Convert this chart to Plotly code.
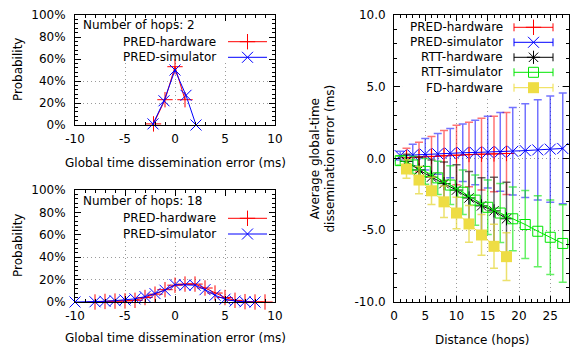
import plotly.graph_objects as go

W, H = 574, 349

# ---------------- data ----------------
# left-top: 2 hops distribution
hops2_hw_x = [-2.15, -1.0, 0.0, 1.0]
hops2_hw_p = [0.01, 0.23, 0.53, 0.23]
hops2_sim_x = [-2.2, -1.1, 0.0, 1.1, 2.1]
hops2_sim_p = [0.01, 0.22, 0.50, 0.27, 0.0]

# left-bottom: 18 hops distribution
hops18_hw_x = [-8, -7, -6, -5, -4, -3, -2, -1, 0, 1, 2, 3, 4, 5, 6, 7, 8, 9]
hops18_hw_p = [0.0, 0.005, 0.008, 0.01, 0.015, 0.04, 0.07, 0.11, 0.15, 0.16,
               0.16, 0.125, 0.08, 0.04, 0.015, 0.003, 0.0, 0.0]
hops18_sim_x = [-10, -8, -7, -6, -5, -4, -3, -2, -1, 0, 1, 2, 3, 4, 5, 6, 7, 8]
hops18_sim_p = [0.0, 0.002, 0.006, 0.012, 0.018, 0.028, 0.048, 0.075, 0.105,
                0.155, 0.15, 0.15, 0.11, 0.06, 0.025, 0.008, 0.002, 0.0]

# right: average error vs distance
pred_hw_hops = [2, 4, 6, 8, 10, 12, 14, 16, 18]
pred_hw_mean = [0.05, 0.10, 0.15, 0.20, 0.24, 0.28, 0.30, 0.32, 0.35]
pred_hw_err = [0.67, 1.04, 1.38, 1.75, 2.07, 2.25, 2.5, 2.63, 2.85]

pred_sim_hops = [1, 3, 5, 7, 9, 11, 13, 15, 17, 19, 21, 23, 25, 27]
pred_sim_mean = [0.2, 0.25, 0.3, 0.33, 0.37, 0.4, 0.42, 0.44, 0.46, 0.5, 0.55, 0.6, 0.65, 0.7]
pred_sim_err = [0.3, 0.75, 1.1, 1.42, 1.72, 2.0, 2.25, 2.5, 2.75, 3.05, 3.27, 3.5, 3.7, 3.86]

rtt_hw_hops = [2, 4, 6, 8, 10, 12, 14, 16, 18]
rtt_hw_mean = [-0.2, -0.8, -1.3, -1.75, -2.2, -2.75, -3.3, -3.65, -4.2]
rtt_hw_err = [0.5, 0.9, 1.2, 1.5, 1.76, 1.85, 1.95, 2.35, 2.55]

rtt_sim_hops = [1, 3, 5, 7, 9, 11, 13, 15, 17, 19, 21, 23, 25, 27]
rtt_sim_mean = [-0.15, -0.45, -0.9, -1.35, -1.85, -2.35, -2.9, -3.4, -3.8, -4.2, -4.6, -5.07, -5.49, -5.92]
rtt_sim_err = [0.3, 0.6, 0.9, 1.15, 1.35, 1.55, 1.75, 1.9, 2.05, 2.22, 2.37, 2.47, 2.6, 2.7]

fd_hw_hops = [2, 4, 6, 8, 10, 12, 14, 16, 18]
fd_hw_mean = [-0.73, -1.5, -2.25, -3.02, -3.8, -4.56, -5.33, -6.12, -6.84]
fd_hw_err = [0.65, 0.95, 0.95, 1.1, 1.1, 1.28, 1.42, 1.53, 1.67]

# tick labels
prob_tickvals = [0, 0.2, 0.4, 0.6, 0.8, 1.0]
prob_ticktext = ["0%", "20%", "40%", "60%", "80%", "100%"]
err_tickvals = [-10, -5, 0, 5, 10]
err_ticktext = ["-10", "-5", "0", "5", "10"]
dist_tickvals = [0, 5, 10, 15, 20, 25]
dist_ticktext = ["0", "5", "10", "15", "20", "25"]
avg_tickvals = [-10, -5, 0, 5, 10]
avg_ticktext = ["-10.0", "-5.0", "0.0", "5.0", "10.0"]

# ---------------- styles ----------------
FONT = "DejaVu Sans"
RED, BLUE, BLACK, GREEN, YELLOW = "#ff0000", "#0000ff", "#000000", "#00e600", "#eedd44"
ERRC = {RED: "rgba(255,0,0,0.55)", BLUE: "rgba(0,0,255,0.55)", BLACK: "rgba(0,0,0,0.6)",
        GREEN: "rgba(0,230,0,0.6)", YELLOW: "rgba(230,215,60,0.75)"}

STY = {
    "PRED-hardware": dict(color=RED, symbol="cross-thin", size=11, lw=1),
    "PRED-simulator": dict(color=BLUE, symbol="x-thin", size=11, lw=1),
    "RTT-hardware": dict(color=BLACK, symbol="asterisk-open", size=11, lw=1),
    "RTT-simulator": dict(color=GREEN, symbol="square-open", size=10, lw=1),
    "FD-hardware": dict(color=YELLOW, symbol="square", size=11, lw=0),
}


def marker(name):
    s = STY[name]
    return dict(symbol=s["symbol"], size=s["size"], color=s["color"],
                line=dict(color=s["color"], width=s["lw"]))


fig = go.Figure()

# left panels
for (xs, ps, name, ax) in [
    (hops2_hw_x, hops2_hw_p, "PRED-hardware", ("x", "y")),
    (hops2_sim_x, hops2_sim_p, "PRED-simulator", ("x", "y")),
    (hops18_hw_x, hops18_hw_p, "PRED-hardware", ("x2", "y2")),
    (hops18_sim_x, hops18_sim_p, "PRED-simulator", ("x2", "y2")),
]:
    fig.add_trace(go.Scatter(x=xs, y=ps, mode="lines+markers", name=name,
                             line=dict(color=STY[name]["color"], width=1),
                             marker=marker(name), xaxis=ax[0], yaxis=ax[1],
                             showlegend=False, cliponaxis=False))

# right panel
right_series = [
    ("PRED-hardware", pred_hw_hops, pred_hw_mean, pred_hw_err),
    ("PRED-simulator", pred_sim_hops, pred_sim_mean, pred_sim_err),
    ("RTT-hardware", rtt_hw_hops, rtt_hw_mean, rtt_hw_err),
    ("RTT-simulator", rtt_sim_hops, rtt_sim_mean, rtt_sim_err),
    ("FD-hardware", fd_hw_hops, fd_hw_mean, fd_hw_err),
]
for name, xs, ys, es in right_series:
    c = STY[name]["color"]
    fig.add_trace(go.Scatter(x=xs, y=ys, mode="lines+markers", name=name,
                             line=dict(color=c, width=1), marker=marker(name),
                             error_y=dict(type="data", array=es, visible=True,
                                          color=ERRC[c], thickness=1.5, width=4),
                             xaxis="x3", yaxis="y3", showlegend=False))

# ---------------- axes ----------------
def px_x(p):
    return p / W


def px_y(p):
    return 1 - p / H


axis_common = dict(showline=True, linecolor="black", linewidth=1, mirror="allticks",
                   ticks="inside", ticklen=6, tickcolor="black", tickwidth=1,
                   showgrid=True, gridcolor="#9a9a9a", griddash="1px,3px", gridwidth=1,
                   zeroline=False, tickfont=dict(family=FONT, size=12, color="black"),
                   tickmode="array", automargin=False)

L_X = [px_x(75), px_x(275)]
fig.update_layout(
    template="none",
    width=W, height=H, autosize=False, margin=dict(l=0, r=0, t=0, b=0, pad=0),
    paper_bgcolor="white", plot_bgcolor="rgba(0,0,0,0)",
    font=dict(family=FONT, size=12, color="black"), showlegend=False,
)

minor_x = dict(ticks="inside", ticklen=3, tickcolor="black", dtick=1, tick0=0, showgrid=False)
minor_p = dict(ticks="inside", ticklen=3, tickcolor="black", dtick=0.04, tick0=0, showgrid=False)
minor_a = dict(ticks="inside", ticklen=3, tickcolor="black", dtick=1, tick0=0, showgrid=False)

RANGES = {"x": [-10, 10], "y": [0, 1], "x2": [-10, 10], "y2": [0, 1],
          "x3": [0, 28], "y3": [-10, 10]}

fig.update_layout(
    xaxis=dict(axis_common, domain=L_X, anchor="y", range=RANGES["x"],
               tickvals=err_tickvals, ticktext=err_ticktext, minor=minor_x,
               ticklabelstandoff=3),
    yaxis=dict(axis_common, domain=[px_y(125), px_y(15)], anchor="x", range=RANGES["y"],
               tickvals=prob_tickvals, ticktext=prob_ticktext, minor=minor_p,
               ticklabelstandoff=6),
    xaxis2=dict(axis_common, domain=L_X, anchor="y2", range=RANGES["x2"],
                tickvals=err_tickvals, ticktext=err_ticktext, minor=minor_x,
                ticklabelstandoff=3),
    yaxis2=dict(axis_common, domain=[px_y(302), px_y(190)], anchor="x2", range=RANGES["y2"],
                tickvals=prob_tickvals, ticktext=prob_ticktext, minor=minor_p,
                ticklabelstandoff=6),
    xaxis3=dict(axis_common, domain=[px_x(394), px_x(569)], anchor="y3", range=RANGES["x3"],
                tickvals=dist_tickvals, ticktext=dist_ticktext, minor=minor_a,
                ticklabelstandoff=3),
    yaxis3=dict(axis_common, domain=[px_y(302), px_y(15)], anchor="x3", range=RANGES["y3"],
                tickvals=avg_tickvals, ticktext=avg_ticktext, minor=minor_a,
                ticklabelstandoff=5),
    xaxis4=dict(domain=[0, 1], range=[0, W], visible=False, anchor="y4",
                fixedrange=True, automargin=False),
    yaxis4=dict(domain=[0, 1], range=[H, 0], visible=False, anchor="x4",
                fixedrange=True, automargin=False),
)

# ---------------- keys (opaque boxes, text, samples) ----------------
def frac(ax, f):
    lo, hi = RANGES[ax]
    return lo + f * (hi - lo)


shapes = []
for xr, yr, fx0, fx1, fy0, fy1 in [
    ("x", "y", 0.015, 0.985, 0.564, 0.973),
    ("x2", "y2", 0.015, 0.985, 0.571, 0.973),
    ("x3", "y3", 0.046, 0.931, 0.714, 0.983),
]:
    shapes.append(dict(type="rect", xref=xr, yref=yr,
                       x0=frac(xr, fx0), x1=frac(xr, fx1),
                       y0=frac(yr, fy0), y1=frac(yr, fy1),
                       fillcolor="white", line=dict(width=0), layer="between"))
fig.update_layout(shapes=shapes)

annotations = []


def text(t, x, y, xanchor="center", angle=0):
    annotations.append(dict(text=t, x=px_x(x), y=px_y(y), xref="paper", yref="paper",
                            xanchor=xanchor, yanchor="middle", showarrow=False,
                            textangle=angle, font=dict(family=FONT, size=12, color="black")))


def sample(name, y, x0, x1, caps):
    c = STY[name]["color"]
    xs, ys = [x0, x1], [y, y]
    if caps:
        xs += [None, x0, x0, None, x1, x1]
        ys += [None, y - 4, y + 4, None, y - 4, y + 4]
    fig.add_trace(go.Scatter(x=xs, y=ys, mode="lines", line=dict(color=c, width=1),
                             xaxis="x4", yaxis="y4", showlegend=False, hoverinfo="skip"))
    fig.add_trace(go.Scatter(x=[(x0 + x1) / 2], y=[y], mode="markers", marker=marker(name),
                             xaxis="x4", yaxis="y4", showlegend=False, hoverinfo="skip"))


# left keys
for title, ty, rows in [("Number of hops: 2", 25, [41.7, 57.3]),
                        ("Number of hops: 18", 201, [218.3, 234])]:
    text(title, 81, ty, xanchor="left")
    for name, ry in zip(["PRED-hardware", "PRED-simulator"], rows):
        text(name, 218, ry, xanchor="right")
        sample(name, ry, 228, 267, False)

# right key
for name, ry in zip([s[0] for s in right_series], [27.3, 42.3, 57.3, 72.3, 87.7]):
    text(name, 505, ry, xanchor="right")
    sample(name, ry, 514, 553, True)

# axis titles
text("Probability", 18, 70, angle=-90)
text("Probability", 18, 246, angle=-90)
text("Global time dissemination error (ms)", 175, 163)
text("Global time dissemination error (ms)", 175, 338)
text("Average global-time<br>dissemination error (ms)", 322, 158.5, angle=-90)
text("Distance (hops)", 481.5, 340)

fig.update_layout(annotations=annotations)

fig.write_html("out.html")
